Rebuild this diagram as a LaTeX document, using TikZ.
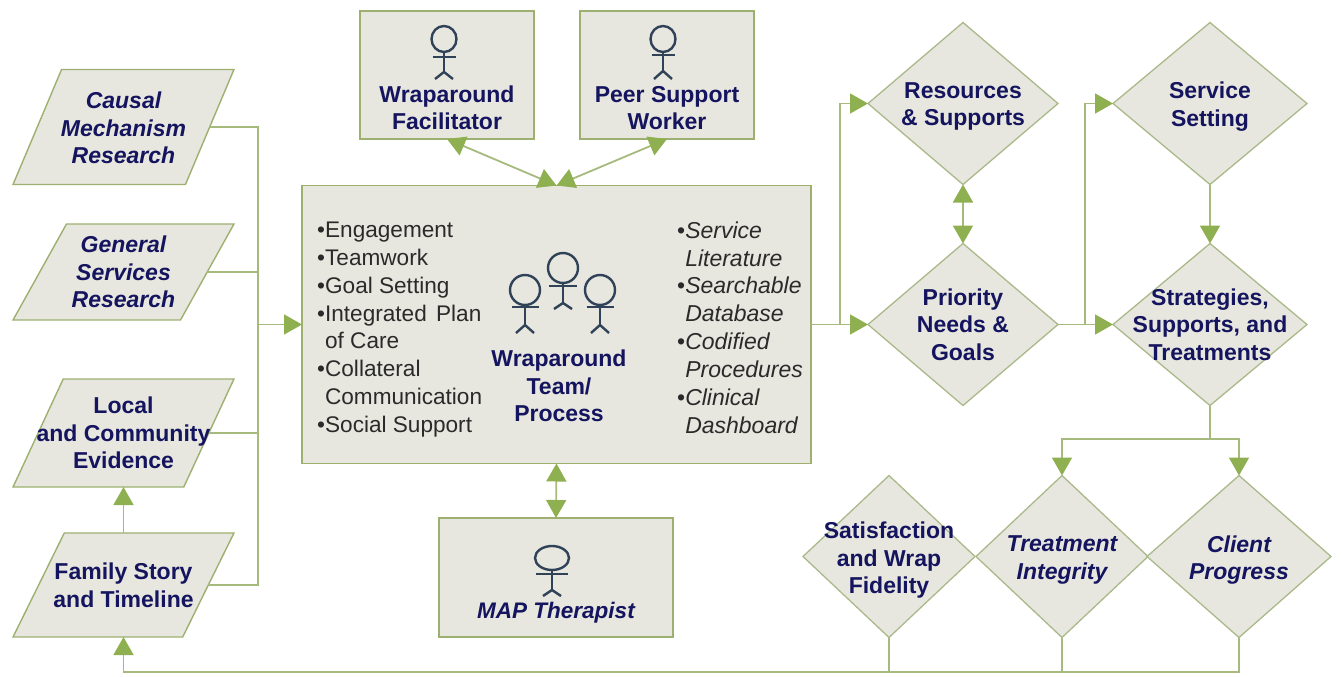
\documentclass[tikz,border=0pt]{standalone}
\usepackage{fontspec}
\setmainfont{Liberation Sans}
\usetikzlibrary{shapes.geometric,arrows.meta}
\definecolor{shapefill}{HTML}{E7E7DF}
\definecolor{shapeline}{HTML}{A9B98A}
\definecolor{boxline}{HTML}{9DB070}
\definecolor{wire}{HTML}{A6BA7E}
\definecolor{tipgreen}{HTML}{8FB050}
\definecolor{navy}{HTML}{14145F}
\definecolor{figure}{HTML}{2F4258}
\definecolor{bodytext}{HTML}{2A2A2A}
\newcommand{\stickman}[8]{%
  \draw[figline] (#1,#2) ellipse [x radius=#3, y radius=#4];
  \draw[figline] (#1-#8,#5) -- (#1+#8,#5);
  \draw[figline] (#1,#2+#4) -- (#1,#6);
  \draw[figline] (#1-9,#7) -- (#1,#6) -- (#1+9,#7);
}
\tikzset{
  figline/.style={draw=figure,line width=2.4pt},
  txt/.style={font=\fontsize{23}{27.5}\selectfont\bfseries,text=navy,align=center,inner sep=0pt},
  txtit/.style={font=\fontsize{23}{27.5}\selectfont\bfseries\itshape,text=navy,align=center,inner sep=0pt},
  listtxt/.style={font=\fontsize{22.6}{27.85}\selectfont,text=bodytext,align=left,inner sep=0pt,anchor=west},
  boxnode/.style={draw=boxline,fill=shapefill,line width=1.4pt,rectangle,inner sep=0pt,outer sep=0pt},
  paranode/.style={draw=boxline,fill=shapefill,line width=1.4pt,trapezium,trapezium stretches=true,
    trapezium left angle=#1,trapezium right angle=180-#1,minimum width=221pt,inner sep=3pt,outer sep=0pt},
  dia/.style={draw=shapeline,fill=shapefill,line width=1.3pt,diamond,inner sep=0pt,outer sep=0pt},
  wireline/.style={draw=wire,line width=1.8pt},
  arrowline/.style={wireline,-{Triangle[length=18pt,width=20pt,color=tipgreen,fill=tipgreen]}},
  twoway/.style={wireline,{Triangle[length=18pt,width=20pt,color=tipgreen,fill=tipgreen]}-{Triangle[length=18pt,width=20pt,color=tipgreen,fill=tipgreen]}},
}
\begin{document}
\begin{tikzpicture}[x=1pt,y=-1pt]
\useasboundingbox (0,0) rectangle (1342,677);
% coordinates for junctions
\coordinate (jleft) at (258,324.5);
\coordinate (jmid) at (840,324.5);
\coordinate (jright) at (1085,324.5);
\coordinate (jdown) at (1210,439);
\coordinate (jbottom) at (123.5,672);

% parallelograms
\node[paranode=68.6,minimum height=115pt,label={[txtit,yshift=-1pt]center:{Causal\\Mechanism\\Research}}] (causal) at (123.5,127) {};
\node[paranode=64.9,minimum height=96pt,label={[txtit]center:{General\\Services\\Research}}] (general) at (123.5,272) {};
\node[paranode=67.4,minimum height=108pt,label={[txt]center:{Local\\and Community\\Evidence}}] (local) at (123.5,433) {};
\node[paranode=66.6,minimum height=104pt,label={[txt,yshift=-0.5pt]center:{Family Story\\and Timeline}}] (family) at (123.5,585) {};

% boxes
\node[boxnode,minimum width=174pt,minimum height=128pt,label={[txt,yshift=-33pt]center:{Wraparound\\Facilitator}}] (fac) at (447,75) {};
\node[boxnode,minimum width=174pt,minimum height=128pt,label={[txt,yshift=-33pt]center:{Peer Support\\Worker}}] (peer) at (667,75) {};
\node[boxnode,minimum width=509pt,minimum height=278pt] (main) at (556.5,324.5) {};
\node[boxnode,minimum width=234pt,minimum height=119pt,label={[txtit,font=\fontsize{22.5}{27.5}\selectfont\bfseries\itshape,yshift=-35pt]center:{MAP Therapist}}] (map) at (556,577.5) {};

% main box text
\node[listtxt] (skills) at (317,329.5) {•Engagement\\•Teamwork\\•Goal Setting\\•Integrated\hspace{3pt} Plan\\\phantom{•}of Care\\•Collateral\\\phantom{•}Communication\\•Social Support};
\node[listtxt,font=\fontsize{23}{27.85}\selectfont] (tools) at (677,327.5) {•\textit{Service}\\\phantom{•}\textit{Literature}\\•\textit{Searchable}\\\phantom{•}\textit{Database}\\•\textit{Codified}\\\phantom{•}\textit{Procedures}\\•\textit{Clinical}\\\phantom{•}\textit{Dashboard}};
\node[txt] (team) at (559,386) {Wraparound\\Team/\\Process};

% diamonds
\node[dia,minimum width=190pt,minimum height=162pt,label={[txt,yshift=-3pt]center:{Resources\\\& Supports}}] (resources) at (963,103.5) {};
\node[dia,minimum width=190pt,minimum height=162pt,label={[txt]center:{Priority\\Needs \&\\Goals}}] (priority) at (963,324.5) {};
\node[dia,minimum width=194pt,minimum height=162pt,label={[txt,yshift=-3pt]center:{Service\\Setting}}] (service) at (1210,103.5) {};
\node[dia,minimum width=194pt,minimum height=162pt,label={[txt]center:{Strategies,\\Supports, and\\Treatments}}] (strategies) at (1210,324.5) {};
\node[dia,minimum width=172pt,minimum height=162pt,label={[txt,yshift=-4pt]center:{Satisfaction\\and Wrap\\Fidelity}}] (satis) at (889,556.5) {};
\node[dia,minimum width=172pt,minimum height=162pt,label={[txtit,yshift=-3.5pt]center:{Treatment\\Integrity}}] (treat) at (1062,556.5) {};
\node[dia,minimum width=184pt,minimum height=162pt,label={[txtit,yshift=-3.5pt]center:{Client\\Progress}}] (client) at (1239,556.5) {};

% figures
\stickman{444}{39}{12.5}{13}{57}{72}{79}{11.5}
\stickman{663}{39}{12.5}{13}{55}{71}{79}{11.5}
\stickman{552}{558}{17}{12}{574}{590}{596}{16}
\stickman{525}{290}{15}{15}{307}{325}{333}{13.5}
\stickman{563}{268}{15}{15}{286}{303}{309}{14}
\stickman{600}{290}{15}{15}{307}{325}{333}{13.5}

% connectors
\draw[wireline] (causal.east) -| (jleft);
\draw[wireline] (general.east) -| (jleft);
\draw[wireline] (local.east) -| (jleft);
\draw[wireline] (family.east) -| (jleft);
\draw[arrowline] (jleft) -- (main.west);
\draw[arrowline] (family.north) -- (local.south);
\draw[twoway] (fac.south) -- (main.north);
\draw[twoway] (peer.south) -- (main.north);
\draw[twoway] (main.south) -- (map.north);
\draw[arrowline] (main.east) -- (priority.west);
\draw[arrowline] (jmid) |- (resources.west);
\draw[twoway] (resources.south) -- (priority.north);
\draw[arrowline] (priority.east) -- (strategies.west);
\draw[arrowline] (jright) |- (service.west);
\draw[arrowline] (service.south) -- (strategies.north);
\draw[wireline] (strategies.south) -- (jdown);
\draw[arrowline] (jdown) -| (treat.north);
\draw[arrowline] (jdown) -| (client.north);
\draw[arrowline] (client.south) |- (jbottom) -- (family.south);
\draw[wireline] (satis.south) -- (satis.south |- jbottom);
\draw[wireline] (treat.south) -- (treat.south |- jbottom);
\end{tikzpicture}
\end{document}
